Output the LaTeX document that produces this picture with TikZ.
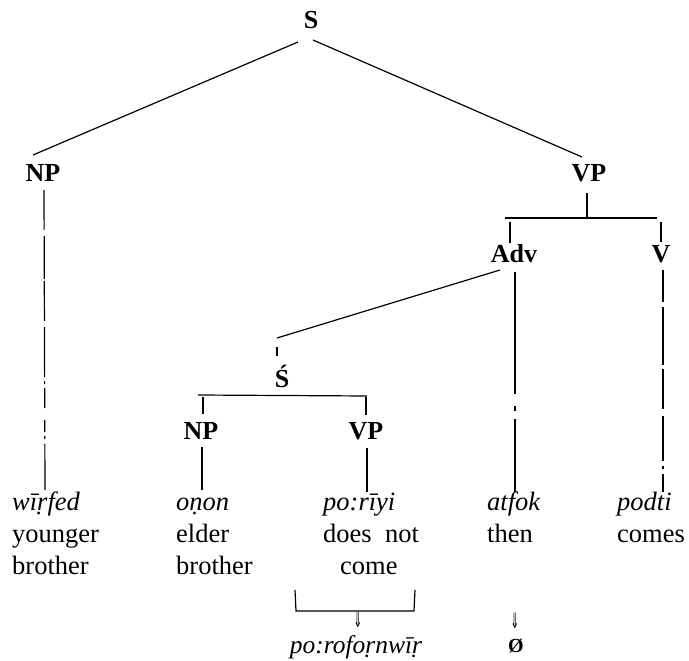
\documentclass[tikz,border=0pt]{standalone}
\usepackage{fontspec}
\usepackage{graphicx}
\setmainfont{Liberation Serif}
\newfontfamily\arrowfont{DejaVu Sans}
\usetikzlibrary{calc}
\tikzset{
  cat/.style={font=\fontsize{26}{30}\selectfont\bfseries, inner sep=0pt, anchor=base},
  wd/.style={font=\fontsize{26.5}{32}\selectfont, inner sep=0pt, anchor=base west},
  nat/.style={font=\fontsize{26.5}{32}\selectfont\itshape, inner sep=0pt, anchor=base west},
  dbl/.style={font=\fontsize{17}{18}\selectfont\arrowfont, inner sep=0pt},
  branch/.style={line width=1.2pt}
}
\begin{document}
\begin{tikzpicture}[x=1pt,y=-1pt]
\useasboundingbox (0,0) rectangle (689,661);
% category labels
\node[cat] (S) at (311,29) {S};
\node[cat] (NP1) at (43,182) {NP};
\node[cat] (VP1) at (589,182) {VP};
\node[cat] (Adv) at (514,262) {Adv};
\node[cat] (V) at (661,262) {V};
\node[cat] (Sb) at (282,387) {Ś};
\node[cat] (NP2) at (201,439) {NP};
\node[cat] (VP2) at (366,439) {VP};
% words
\node[nat] (W1a) at (12,510) {wīṛfed};
\node[wd] (W1b) at (12,542) {younger};
\node[wd] (W1c) at (12,574) {brother};
\node[nat] (W2a) at (176,510) {oṇon};
\node[wd] (W2b) at (176,542) {elder};
\node[wd] (W2c) at (176,574) {brother};
\node[nat] (W3a) at (323,510) {po:rīyi};
\node[wd] (W3b) at (323,542) {does\ \ not};
\node[wd] (W3c) at (340,574) {come};
\node[nat] (W4a) at (487,510) {atfok};
\node[wd] (W4b) at (487,542) {then};
\node[nat] (W5a) at (617,510) {podti};
\node[wd] (W5b) at (617,542) {comes};
% bracket and derived forms
\coordinate (bA) at (295,590);
\coordinate (bB) at (296,611);
\coordinate (bC) at (414,611);
\coordinate (bD) at (415,590);
\node[dbl] (A1) at (358,620) {\scalebox{0.6}[1.25]{⇓}};
\node[nat, anchor=base, font=\fontsize{25.5}{30}\selectfont\itshape] (F1) at (356,653) {po:rofoṛnwīṛ};
\node[dbl] (A2) at (515,621) {\scalebox{0.6}[1.25]{⇓}};
\node[font=\fontsize{20}{22}\selectfont\bfseries, inner sep=0pt, anchor=base] (F2) at (516,652) {Ø};
% bars
\coordinate (vpL) at (505,218);
\coordinate (vpR) at (657,218);
\coordinate (sL) at (198,395);
\coordinate (sR) at (367,396);
% connectors
\draw[branch] ($(S.base)+(-13,13)$) -- ($(NP1.base)+(-10,-27)$);
\draw[branch] ($(S.base)+(2,11)$) -- ($(VP1.base)+(-7,-25)$);
\draw[branch] ($(VP1.base)+(-2,11)$) -- ($(VP1.base)+(-2,36)$);
\draw[branch] (vpL) -- (vpR);
\draw[branch] ($(Adv.base)+(-4,-40)$) -- ($(Adv.base)+(-4,-19)$);
\draw[branch] ($(V.base)+(0,-40)$) -- ($(V.base)+(0,-20)$);
\draw[branch, dash pattern=on 40pt off 6pt on 43pt off 2pt on 40pt off 6pt on 50pt off 4pt on 3pt off 4pt on 20pt off 12pt on 12pt off 4pt on 3pt off 5pt on 60pt]
  ($(NP1.base)+(1,8)$) -- ($(W1a.base west)+(33,-20)$);
\draw[branch, dash pattern=on 122pt off 12pt on 5pt off 8pt on 80pt]
  ($(Adv.base)+(1,10)$) -- ($(W4a.base west)+(28,-18)$);
\draw[branch, dash pattern=on 32pt off 5pt on 58pt off 4pt on 40pt off 7pt on 45pt off 5pt on 3pt off 5pt on 40pt]
  ($(V.base)+(2,8)$) -- ($(W5a.base west)+(46,-18)$);
\draw[branch] ($(Adv.base)+(-14,8)$) -- ($(Sb.base)+(-5,-49)$);
\draw[branch] ($(Sb.base)+(-5,-40)$) -- ($(Sb.base)+(-5,-31)$);
\draw[branch] (sL) -- (sR);
\draw[branch] ($(NP2.base)+(2,-42)$) -- ($(NP2.base)+(2,-25)$);
\draw[branch] ($(VP2.base)+(0,-42)$) -- ($(VP2.base)+(0,-24)$);
\draw[branch] ($(NP2.base)+(1,8)$) -- ($(W2a.base west)+(26,-20)$);
\draw[branch] ($(VP2.base)+(1,9)$) -- ($(W3a.base west)+(44,-18)$);
\draw[branch] (bA) -- (bB) -- (bC) -- (bD);
\end{tikzpicture}
\end{document}
